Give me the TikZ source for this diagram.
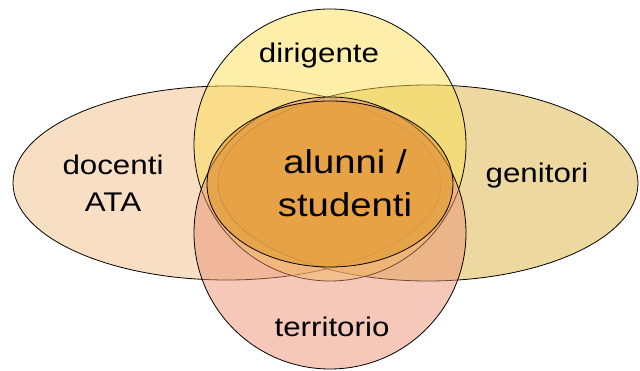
\documentclass[tikz,border=0pt]{standalone}
\usepackage{fontspec}
\setmainfont{Liberation Sans}
\newfontfamily\vennfont[FakeStretch=1.16]{Liberation Sans}
\definecolor{docenticol}{HTML}{F1BD87}
\definecolor{dirigcol}{HTML}{FBDD55}
\definecolor{genitcol}{HTML}{DBB341}
\definecolor{territcol}{HTML}{EB9173}
\definecolor{alunnicol}{HTML}{E09A2C}
\begin{document}
\begin{tikzpicture}[
						x=1pt, y=-1pt,
						set/.style={draw=black, thick, fill opacity=0.5},
						core/.style={draw=black, thick, fill opacity=0.6},
						every node/.style={font=\vennfont\fontsize{27}{37}\selectfont, align=center, inner sep=0pt}
					]
					\useasboundingbox (0,0) rectangle (640,371);
					% the four groups round the pupils
					\path[set, fill=docenticol] (227,183) ellipse [x radius=214, y radius=97];
					\path[set, fill=genitcol] (428,183) ellipse [x radius=210, y radius=98];
					\path[set, fill=dirigcol] (330,145) circle [radius=136];
					\path[set, fill=territcol] (330,233) circle [radius=136];
					\path[core, fill=alunnicol] (330,184) ellipse [x radius=123, y radius=83];
					% labels (base is the last line)
					\node[anchor=base] (dirigente) at (319,63) {dirigente};
					\node[anchor=base] (docenti) at (113,212) {docenti\\ATA};
					\node[anchor=base] (genitori) at (537,183) {genitori};
					\node[anchor=base] (territorio) at (332,337) {territorio};
					\node[anchor=base, font=\vennfont\fontsize{33}{43}\selectfont] (alunni) at (345,217) {alunni /\\studenti};
				\end{tikzpicture}
\end{document}
